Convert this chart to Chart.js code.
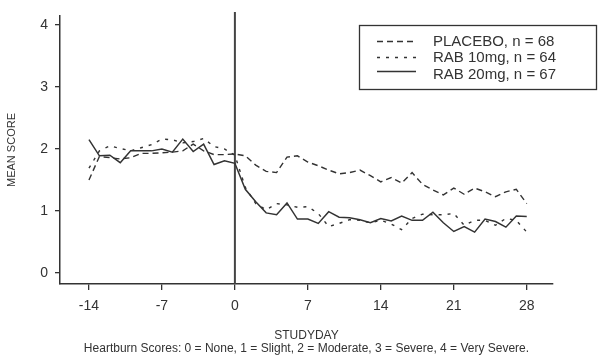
<!DOCTYPE html>
<html><head><meta charset="utf-8">
<script src="https://cdn.jsdelivr.net/npm/chart.js@4"></script>
<style>html,body{margin:0;padding:0;background:#fff}</style>
</head><body>
<canvas id="c" width="600" height="357"></canvas>
<script>
const days = [-14,-13,-12,-11,-10,-9,-8,-7,-6,-5,-4,-3,-2,-1,0,1,2,3,4,5,6,7,8,9,10,11,12,13,14,15,16,17,18,19,20,21,22,23,24,25,26,27,28];
const placebo = [1.50,1.88,1.86,1.84,1.86,1.93,1.93,1.94,1.95,1.97,2.08,1.97,1.91,1.91,1.92,
  1.89,1.74,1.64,1.62,1.87,1.89,1.79,1.73,1.66,1.60,1.62,1.66,1.57,1.47,1.54,1.45,1.62,1.43,1.34,1.26,1.37,1.27,1.37,1.31,1.23,1.31,1.35,1.12];
const rab10 = [1.69,1.97,2.05,2.01,1.97,2.02,2.07,2.16,2.15,2.10,2.12,2.17,2.04,2.00,1.90,
  1.38,1.12,1.02,1.12,1.10,1.06,1.07,0.96,0.75,0.80,0.86,0.85,0.81,0.85,0.79,0.70,0.88,0.95,0.94,0.94,0.96,0.77,0.85,0.85,0.77,0.88,0.85,0.66];
const rab20 = [2.15,1.89,1.90,1.78,1.97,1.97,1.97,2.00,1.95,2.16,1.96,2.08,1.75,1.81,1.77,
  1.35,1.15,0.97,0.94,1.13,0.87,0.87,0.80,0.99,0.90,0.89,0.86,0.81,0.88,0.84,0.92,0.85,0.85,0.98,0.81,0.67,0.75,0.66,0.87,0.83,0.74,0.92,0.91];
const seriesLabels = ['PLACEBO, n = 68','RAB 10mg, n = 64','RAB 20mg, n = 67'];
const xTicks = [-14,-7,0,7,14,21,28];
const yTicks = [0,1,2,3,4];
const baselineDay = [0,0];
const baselineSpan = [-0.177,4.21];
const xTitle = 'STUDYDAY';
const footnote = 'Heartburn Scores: 0 = None, 1 = Slight, 2 = Moderate, 3 = Severe, 4 = Very Severe.';
const yTitle = 'MEAN SCORE';

const FONT = '"Liberation Sans", Arial, sans-serif';
const INK = '#333';
const pts = arr => days.map((d,i)=>({x:d,y:arr[i]}));

const boxLegend = {
  id:'boxLegend',
  afterDraw(chart){
    const ctx = chart.ctx;
    ctx.save();
    ctx.strokeStyle = INK; ctx.lineWidth = 1.3;
    ctx.strokeRect(359.5,25.5,237,64);
    const lineY = [41,57,71], textY = [42,58,75];
    const ds = chart.data.datasets.filter(d=>d.label);
    ds.forEach((d,i)=>{
      ctx.beginPath();
      ctx.setLineDash(d.borderDash||[]);
      ctx.strokeStyle = d.borderColor; ctx.lineWidth = d.borderWidth;
      ctx.moveTo(377,lineY[i]+0.5); ctx.lineTo(416,lineY[i]+0.5); ctx.stroke();
      ctx.setLineDash([]);
      ctx.fillStyle = INK; ctx.font = '15px '+FONT; ctx.textBaseline='middle'; ctx.textAlign='left';
      ctx.fillText(d.label,433,textY[i]);
    });
    ctx.restore();
  }
};

new Chart(document.getElementById('c'),{
  type:'line',
  data:{datasets:[
    {label:seriesLabels[0],data:pts(placebo),borderColor:'#333',borderWidth:1.4,borderDash:[6,4],pointRadius:0,tension:0,fill:false},
    {label:seriesLabels[1],data:pts(rab10),borderColor:'#333',borderWidth:1.4,borderDash:[3,6],pointRadius:0,tension:0,fill:false},
    {label:seriesLabels[2],data:pts(rab20),borderColor:'#333',borderWidth:1.5,pointRadius:0,tension:0,fill:false},
    {label:'',data:baselineDay.map((d,i)=>({x:d,y:baselineSpan[i]})),borderColor:'#444',borderWidth:2,pointRadius:0,clip:false}
  ]},
  options:{
    responsive:false,animation:false,devicePixelRatio:1,
    layout:{padding:{top:16,right:47,left:0,bottom:0}},
    plugins:{legend:{display:false},tooltip:{enabled:false}},
    scales:{
      x:{type:'linear',min:-16.78,max:30.52,
        afterBuildTicks:s=>{s.ticks=xTicks.map(v=>({value:v}));},
        afterFit:s=>{s.height=73;},
        grid:{drawOnChartArea:false,drawTicks:true,tickLength:6,color:INK,lineWidth:1.3},
        border:{display:true,color:INK,width:1.5},
        ticks:{color:INK,font:{size:14,family:FONT},padding:8,maxRotation:0,autoSkip:false},
        title:{display:true,text:[xTitle,footnote],color:INK,font:{size:12,family:FONT,lineHeight:1.1},padding:{top:0,bottom:2}}
      },
      y:{min:-0.177,max:4.145,
        afterBuildTicks:s=>{s.ticks=yTicks.map(v=>({value:v}));},
        afterFit:s=>{s.width=60;},
        grid:{drawOnChartArea:false,drawTicks:true,tickLength:5,color:INK,lineWidth:1.3},
        border:{display:true,color:INK,width:1.5},
        ticks:{color:INK,font:{size:14,family:FONT},padding:7},
        title:{display:true,text:yTitle,color:INK,font:{size:11,family:FONT},padding:{top:5,bottom:0}}
      }
    }
  },
  plugins:[boxLegend]
});
</script>
</body></html>
